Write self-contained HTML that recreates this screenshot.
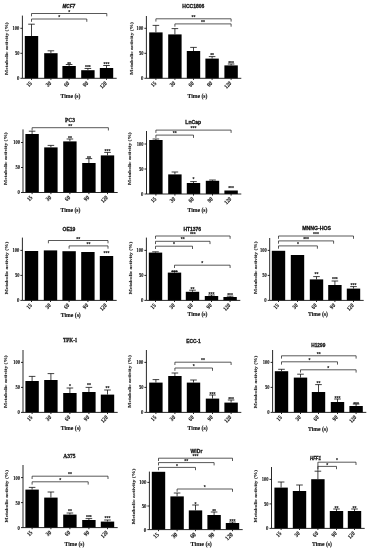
<!DOCTYPE html>
<html><head><meta charset="utf-8"><title>Metabolic activity</title><style>
html,body{margin:0;padding:0;background:#fff;width:368px;height:550px;overflow:hidden}
svg{display:block;filter:blur(0.3px)}
rect{fill:#000}
.a{stroke:#111;stroke-width:0.9;fill:none}
.b{stroke:#222;stroke-width:0.75;fill:none}
.e{stroke:#111;stroke-width:0.8;fill:none}
text{font-family:"Liberation Sans", sans-serif;font-weight:bold;fill:#111}
.yt{font-family:"Liberation Serif", serif;text-anchor:end;stroke:#111;stroke-width:0.1px}
.xt{font-family:"Liberation Serif", serif;text-anchor:end;stroke:#111;stroke-width:0.12px}
.st{font-family:"Liberation Sans", sans-serif;font-size:5px;text-anchor:middle;stroke:#111;stroke-width:0.1px}
.ti{stroke:#111;stroke-width:0.28px}
.tm{font-family:"Liberation Serif", serif;text-anchor:middle;stroke:#111;stroke-width:0.12px}
.yl{font-family:"Liberation Serif", serif;font-size:4.9px;fill:#2a2a2a;stroke:#2a2a2a;stroke-width:0.12px}
</style></head>
<body><svg width="368" height="550" viewBox="0 0 368 550">
<rect width="368" height="550" style="fill:#fff"/>
<rect x="24.8" y="36" width="13.4" height="42.3"/>
<rect x="44.2" y="53.2" width="13.4" height="25.1"/>
<rect x="62.4" y="66" width="13.4" height="12.3"/>
<rect x="81.2" y="70.2" width="13.4" height="8.1"/>
<rect x="99.8" y="68" width="13.4" height="10.3"/>
<path d="M31.5 36V24.2M28.2 24.2H34.8" class="e"/>
<path d="M50.9 53.2V50.8M47.6 50.8H54.2" class="e"/>
<path d="M69.1 66V64.5M65.8 64.5H72.4" class="e"/>
<path d="M87.9 70.2V68.5M84.6 68.5H91.2" class="e"/>
<path d="M106.5 68V65.5M103.2 65.5H109.8" class="e"/>
<path d="M22.4 15.6V78.3H116.7" class="a"/>
<path d="M20.4 78.3H22.4" class="a"/>
<text x="19.4" y="80.2" class="yt" style="font-size:5.4px" textLength="2.4" lengthAdjust="spacingAndGlyphs">0</text>
<path d="M20.4 53.3H22.4" class="a"/>
<text x="19.4" y="55.2" class="yt" style="font-size:5.4px" textLength="4.5" lengthAdjust="spacingAndGlyphs">50</text>
<path d="M20.4 28.3H22.4" class="a"/>
<text x="19.4" y="30.2" class="yt" style="font-size:5.4px" textLength="6.8" lengthAdjust="spacingAndGlyphs">100</text>
<path d="M31.5 78.3V79.9" class="a"/>
<text transform="translate(32.3 83.7) rotate(-45)" class="xt" style="font-size:6px" textLength="5.1" lengthAdjust="spacingAndGlyphs">15</text>
<path d="M50.9 78.3V79.9" class="a"/>
<text transform="translate(51.7 83.7) rotate(-45)" class="xt" style="font-size:6px" textLength="5.1" lengthAdjust="spacingAndGlyphs">30</text>
<path d="M69.1 78.3V79.9" class="a"/>
<text transform="translate(69.9 83.7) rotate(-45)" class="xt" style="font-size:6px" textLength="5.1" lengthAdjust="spacingAndGlyphs">60</text>
<path d="M87.9 78.3V79.9" class="a"/>
<text transform="translate(88.7 83.7) rotate(-45)" class="xt" style="font-size:6px" textLength="5.1" lengthAdjust="spacingAndGlyphs">90</text>
<path d="M106.5 78.3V79.9" class="a"/>
<text transform="translate(107.3 83.7) rotate(-45)" class="xt" style="font-size:6px" textLength="7.65" lengthAdjust="spacingAndGlyphs">120</text>
<text x="69.1" y="65.8" class="st">**</text>
<text x="87.9" y="69" class="st">***</text>
<text x="106.5" y="66" class="st">***</text>
<path d="M31.5 16.3V13.5H106.8V16.3" class="b"/>
<text x="69.15" y="13.6" class="st">*</text>
<path d="M31.5 21.8V19H86.8V21.8" class="b"/>
<text x="59.15" y="19.1" class="st">*</text>
<text x="62.5" y="7.8" class="ti" style="font-family:'Liberation Sans', sans-serif;font-size:5px;font-style:italic" textLength="12.6" lengthAdjust="spacingAndGlyphs">MCF7</text>
<text x="70.5" y="97.7" class="tm" style="font-size:5.7px">Time (s)</text>
<text transform="translate(7.8 48.6) rotate(-90)" class="yl" textLength="52.6" lengthAdjust="spacingAndGlyphs" x="-26.3">Metabolic activity (%)</text>
<rect x="149.2" y="32.4" width="13.4" height="45.9"/>
<rect x="168.2" y="34.4" width="13.4" height="43.9"/>
<rect x="186.8" y="51" width="13.4" height="27.3"/>
<rect x="205.4" y="58.6" width="13.4" height="19.7"/>
<rect x="224.4" y="65.4" width="13.4" height="12.9"/>
<path d="M155.9 32.4V25.4M152.6 25.4H159.2" class="e"/>
<path d="M174.9 34.4V28.6M171.6 28.6H178.2" class="e"/>
<path d="M193.5 51V47.4M190.2 47.4H196.8" class="e"/>
<path d="M212.1 58.6V56.6M208.8 56.6H215.4" class="e"/>
<path d="M231.1 65.4V64M227.8 64H234.4" class="e"/>
<path d="M146.4 16V78.3H241.3" class="a"/>
<path d="M144.4 78.3H146.4" class="a"/>
<text x="143.4" y="80.2" class="yt" style="font-size:5.4px" textLength="2.4" lengthAdjust="spacingAndGlyphs">0</text>
<path d="M144.4 53.3H146.4" class="a"/>
<text x="143.4" y="55.2" class="yt" style="font-size:5.4px" textLength="4.5" lengthAdjust="spacingAndGlyphs">50</text>
<path d="M144.4 28.3H146.4" class="a"/>
<text x="143.4" y="30.2" class="yt" style="font-size:5.4px" textLength="6.8" lengthAdjust="spacingAndGlyphs">100</text>
<path d="M155.9 78.3V79.9" class="a"/>
<text transform="translate(156.7 83.7) rotate(-45)" class="xt" style="font-size:6px" textLength="5.1" lengthAdjust="spacingAndGlyphs">15</text>
<path d="M174.9 78.3V79.9" class="a"/>
<text transform="translate(175.7 83.7) rotate(-45)" class="xt" style="font-size:6px" textLength="5.1" lengthAdjust="spacingAndGlyphs">30</text>
<path d="M193.5 78.3V79.9" class="a"/>
<text transform="translate(194.3 83.7) rotate(-45)" class="xt" style="font-size:6px" textLength="5.1" lengthAdjust="spacingAndGlyphs">60</text>
<path d="M212.1 78.3V79.9" class="a"/>
<text transform="translate(212.9 83.7) rotate(-45)" class="xt" style="font-size:6px" textLength="5.1" lengthAdjust="spacingAndGlyphs">90</text>
<path d="M231.1 78.3V79.9" class="a"/>
<text transform="translate(231.9 83.7) rotate(-45)" class="xt" style="font-size:6px" textLength="7.65" lengthAdjust="spacingAndGlyphs">120</text>
<text x="212.1" y="57.3" class="st">**</text>
<text x="231.1" y="64.8" class="st">***</text>
<path d="M155.9 21.6V18.8H231.1V21.6" class="b"/>
<text x="193.5" y="18.9" class="st">**</text>
<path d="M174.9 26.7V23.9H231.1V26.7" class="b"/>
<text x="203" y="24" class="st">**</text>
<text x="182.3" y="8.04" class="ti" style="font-family:'Liberation Sans', sans-serif;font-size:5.1px" textLength="22" lengthAdjust="spacingAndGlyphs">HCC1806</text>
<text x="197.5" y="97.5" class="tm" style="font-size:5.7px">Time (s)</text>
<text transform="translate(132.6 48.4) rotate(-90)" class="yl" textLength="52.6" lengthAdjust="spacingAndGlyphs" x="-26.3">Metabolic activity (%)</text>
<rect x="25.4" y="134" width="13.4" height="58.5"/>
<rect x="44.2" y="147.4" width="13.4" height="45.1"/>
<rect x="63.2" y="141.4" width="13.4" height="51.1"/>
<rect x="82.2" y="163" width="13.4" height="29.5"/>
<rect x="100.8" y="155.4" width="13.4" height="37.1"/>
<path d="M32.1 134V131.2M28.8 131.2H35.4" class="e"/>
<path d="M50.9 147.4V145.4M47.6 145.4H54.2" class="e"/>
<path d="M69.9 141.4V139M66.6 139H73.2" class="e"/>
<path d="M88.9 163V158.6M85.6 158.6H92.2" class="e"/>
<path d="M107.5 155.4V152.4M104.2 152.4H110.8" class="e"/>
<path d="M23 129.4V192.5H117.7" class="a"/>
<path d="M21 192.5H23" class="a"/>
<text x="20" y="194.4" class="yt" style="font-size:5.4px" textLength="2.4" lengthAdjust="spacingAndGlyphs">0</text>
<path d="M21 167.5H23" class="a"/>
<text x="20" y="169.4" class="yt" style="font-size:5.4px" textLength="4.5" lengthAdjust="spacingAndGlyphs">50</text>
<path d="M21 142.5H23" class="a"/>
<text x="20" y="144.4" class="yt" style="font-size:5.4px" textLength="6.8" lengthAdjust="spacingAndGlyphs">100</text>
<path d="M32.1 192.5V194.1" class="a"/>
<text transform="translate(32.9 197.9) rotate(-45)" class="xt" style="font-size:6px" textLength="5.1" lengthAdjust="spacingAndGlyphs">15</text>
<path d="M50.9 192.5V194.1" class="a"/>
<text transform="translate(51.7 197.9) rotate(-45)" class="xt" style="font-size:6px" textLength="5.1" lengthAdjust="spacingAndGlyphs">30</text>
<path d="M69.9 192.5V194.1" class="a"/>
<text transform="translate(70.7 197.9) rotate(-45)" class="xt" style="font-size:6px" textLength="5.1" lengthAdjust="spacingAndGlyphs">60</text>
<path d="M88.9 192.5V194.1" class="a"/>
<text transform="translate(89.7 197.9) rotate(-45)" class="xt" style="font-size:6px" textLength="5.1" lengthAdjust="spacingAndGlyphs">90</text>
<path d="M107.5 192.5V194.1" class="a"/>
<text transform="translate(108.3 197.9) rotate(-45)" class="xt" style="font-size:6px" textLength="7.65" lengthAdjust="spacingAndGlyphs">120</text>
<text x="69.9" y="139.8" class="st">**</text>
<text x="88.9" y="159.8" class="st">**</text>
<text x="107.5" y="153.3" class="st">***</text>
<path d="M32.1 130.5V127.7H108.4V130.5" class="b"/>
<text x="70.25" y="127.8" class="st">**</text>
<text x="65" y="122.18" class="ti" style="font-family:'Liberation Serif', serif;font-size:6px" textLength="10" lengthAdjust="spacingAndGlyphs">PC3</text>
<text x="70.5" y="211.9" class="tm" style="font-size:5.7px">Time (s)</text>
<text transform="translate(7.3 158.6) rotate(-90)" class="yl" textLength="52.6" lengthAdjust="spacingAndGlyphs" x="-26.3">Metabolic activity (%)</text>
<rect x="149.2" y="140" width="13.4" height="54"/>
<rect x="168.2" y="174.4" width="13.4" height="19.6"/>
<rect x="186.8" y="183" width="13.4" height="11"/>
<rect x="205.8" y="180.8" width="13.4" height="13.2"/>
<rect x="224.4" y="190.5" width="13.4" height="3.5"/>
<path d="M155.9 140V139M152.6 139H159.2" class="e"/>
<path d="M174.9 174.4V172M171.6 172H178.2" class="e"/>
<path d="M193.5 183V181.6M190.2 181.6H196.8" class="e"/>
<path d="M212.5 180.8V180M209.2 180H215.8" class="e"/>
<path d="M146.5 131V194H241.3" class="a"/>
<path d="M144.5 194H146.5" class="a"/>
<text x="143.5" y="195.9" class="yt" style="font-size:5.4px" textLength="2.4" lengthAdjust="spacingAndGlyphs">0</text>
<path d="M144.5 169H146.5" class="a"/>
<text x="143.5" y="170.9" class="yt" style="font-size:5.4px" textLength="4.5" lengthAdjust="spacingAndGlyphs">50</text>
<path d="M144.5 144H146.5" class="a"/>
<text x="143.5" y="145.9" class="yt" style="font-size:5.4px" textLength="6.8" lengthAdjust="spacingAndGlyphs">100</text>
<path d="M155.9 194V195.6" class="a"/>
<text transform="translate(156.7 199.4) rotate(-45)" class="xt" style="font-size:6px" textLength="5.1" lengthAdjust="spacingAndGlyphs">15</text>
<path d="M174.9 194V195.6" class="a"/>
<text transform="translate(175.7 199.4) rotate(-45)" class="xt" style="font-size:6px" textLength="5.1" lengthAdjust="spacingAndGlyphs">30</text>
<path d="M193.5 194V195.6" class="a"/>
<text transform="translate(194.3 199.4) rotate(-45)" class="xt" style="font-size:6px" textLength="5.1" lengthAdjust="spacingAndGlyphs">60</text>
<path d="M212.5 194V195.6" class="a"/>
<text transform="translate(213.3 199.4) rotate(-45)" class="xt" style="font-size:6px" textLength="5.1" lengthAdjust="spacingAndGlyphs">90</text>
<path d="M231.1 194V195.6" class="a"/>
<text transform="translate(231.9 199.4) rotate(-45)" class="xt" style="font-size:6px" textLength="7.65" lengthAdjust="spacingAndGlyphs">120</text>
<text x="193.5" y="181.4" class="st">*</text>
<text x="231.1" y="190" class="st">***</text>
<path d="M155.9 132.9V130.1H231.1V132.9" class="b"/>
<text x="193.5" y="130.2" class="st">***</text>
<path d="M155.9 137.9V135.1H193.5V137.9" class="b"/>
<text x="174.7" y="135.2" class="st">**</text>
<text x="185.3" y="124.17" class="ti" style="font-family:'Liberation Sans', sans-serif;font-size:5.2px" textLength="15.8" lengthAdjust="spacingAndGlyphs">LnCap</text>
<text x="197.5" y="211.9" class="tm" style="font-size:5.7px">Time (s)</text>
<text transform="translate(131.4 158.6) rotate(-90)" class="yl" textLength="52.6" lengthAdjust="spacingAndGlyphs" x="-26.3">Metabolic activity (%)</text>
<rect x="24.8" y="251" width="13.4" height="49.4"/>
<rect x="43.8" y="250.4" width="13.4" height="50"/>
<rect x="62.4" y="251.2" width="13.4" height="49.2"/>
<rect x="81.2" y="252" width="13.4" height="48.4"/>
<rect x="99.8" y="256" width="13.4" height="44.4"/>
<path d="M22.4 237.6V300.4H116.7" class="a"/>
<path d="M20.4 300.4H22.4" class="a"/>
<text x="19.4" y="302.3" class="yt" style="font-size:5.4px" textLength="2.4" lengthAdjust="spacingAndGlyphs">0</text>
<path d="M20.4 275.4H22.4" class="a"/>
<text x="19.4" y="277.3" class="yt" style="font-size:5.4px" textLength="4.5" lengthAdjust="spacingAndGlyphs">50</text>
<path d="M20.4 250.4H22.4" class="a"/>
<text x="19.4" y="252.3" class="yt" style="font-size:5.4px" textLength="6.8" lengthAdjust="spacingAndGlyphs">100</text>
<path d="M31.5 300.4V302" class="a"/>
<text transform="translate(32.3 305.8) rotate(-45)" class="xt" style="font-size:6px" textLength="5.1" lengthAdjust="spacingAndGlyphs">15</text>
<path d="M50.5 300.4V302" class="a"/>
<text transform="translate(51.3 305.8) rotate(-45)" class="xt" style="font-size:6px" textLength="5.1" lengthAdjust="spacingAndGlyphs">30</text>
<path d="M69.1 300.4V302" class="a"/>
<text transform="translate(69.9 305.8) rotate(-45)" class="xt" style="font-size:6px" textLength="5.1" lengthAdjust="spacingAndGlyphs">60</text>
<path d="M87.9 300.4V302" class="a"/>
<text transform="translate(88.7 305.8) rotate(-45)" class="xt" style="font-size:6px" textLength="5.1" lengthAdjust="spacingAndGlyphs">90</text>
<path d="M106.5 300.4V302" class="a"/>
<text transform="translate(107.3 305.8) rotate(-45)" class="xt" style="font-size:6px" textLength="7.65" lengthAdjust="spacingAndGlyphs">120</text>
<text x="106.5" y="255.3" class="st">***</text>
<path d="M48.4 243.3V240.5H108V243.3" class="b"/>
<text x="78.2" y="240.6" class="st">**</text>
<path d="M69.1 248.7V245.9H108V248.7" class="b"/>
<text x="88.55" y="246" class="st">**</text>
<text x="62.6" y="230.84" class="ti" style="font-family:'Liberation Sans', sans-serif;font-size:5.1px" textLength="12.8" lengthAdjust="spacingAndGlyphs">OE19</text>
<text x="70.8" y="316.9" class="tm" style="font-size:5.7px">Time (s)</text>
<text transform="translate(8.3 268) rotate(-90)" class="yl" textLength="52.6" lengthAdjust="spacingAndGlyphs" x="-26.3">Metabolic activity (%)</text>
<rect x="148.8" y="252.6" width="13.4" height="47.8"/>
<rect x="167.8" y="272.6" width="13.4" height="27.8"/>
<rect x="185.8" y="291.8" width="13.4" height="8.6"/>
<rect x="204.8" y="296" width="13.4" height="4.4"/>
<rect x="223.4" y="297" width="13.4" height="3.4"/>
<path d="M155.5 252.6V251.8M152.2 251.8H158.8" class="e"/>
<path d="M174.5 272.6V271.5M171.2 271.5H177.8" class="e"/>
<path d="M192.5 291.8V290.2M189.2 290.2H195.8" class="e"/>
<path d="M211.5 296V295M208.2 295H214.8" class="e"/>
<path d="M230.1 297V296.2M226.8 296.2H233.4" class="e"/>
<path d="M146.4 237.6V300.4H240.3" class="a"/>
<path d="M144.4 300.4H146.4" class="a"/>
<text x="143.4" y="302.3" class="yt" style="font-size:5.4px" textLength="2.4" lengthAdjust="spacingAndGlyphs">0</text>
<path d="M144.4 275.4H146.4" class="a"/>
<text x="143.4" y="277.3" class="yt" style="font-size:5.4px" textLength="4.5" lengthAdjust="spacingAndGlyphs">50</text>
<path d="M144.4 250.4H146.4" class="a"/>
<text x="143.4" y="252.3" class="yt" style="font-size:5.4px" textLength="6.8" lengthAdjust="spacingAndGlyphs">100</text>
<path d="M155.5 300.4V302" class="a"/>
<text transform="translate(156.3 305.8) rotate(-45)" class="xt" style="font-size:6px" textLength="5.1" lengthAdjust="spacingAndGlyphs">15</text>
<path d="M174.5 300.4V302" class="a"/>
<text transform="translate(175.3 305.8) rotate(-45)" class="xt" style="font-size:6px" textLength="5.1" lengthAdjust="spacingAndGlyphs">30</text>
<path d="M192.5 300.4V302" class="a"/>
<text transform="translate(193.3 305.8) rotate(-45)" class="xt" style="font-size:6px" textLength="5.1" lengthAdjust="spacingAndGlyphs">60</text>
<path d="M211.5 300.4V302" class="a"/>
<text transform="translate(212.3 305.8) rotate(-45)" class="xt" style="font-size:6px" textLength="5.1" lengthAdjust="spacingAndGlyphs">90</text>
<path d="M230.1 300.4V302" class="a"/>
<text transform="translate(230.9 305.8) rotate(-45)" class="xt" style="font-size:6px" textLength="7.65" lengthAdjust="spacingAndGlyphs">120</text>
<text x="174.5" y="273.8" class="st">***</text>
<text x="192.5" y="291" class="st">**</text>
<text x="211.5" y="295.8" class="st">***</text>
<text x="230.1" y="297.4" class="st">***</text>
<path d="M155.5 238.8V236H230.1V238.8" class="b"/>
<text x="192.8" y="236.1" class="st">***</text>
<path d="M155.5 244.1V241.3H210V244.1" class="b"/>
<text x="182.75" y="241.4" class="st">**</text>
<path d="M155.5 249V246.2H192.5V249" class="b"/>
<text x="174" y="246.3" class="st">*</text>
<path d="M174.5 268V265.2H230.1V268" class="b"/>
<text x="202.3" y="265.3" class="st">*</text>
<text x="183.5" y="230.74" class="ti" style="font-family:'Liberation Sans', sans-serif;font-size:5.1px" textLength="17.6" lengthAdjust="spacingAndGlyphs">HT1376</text>
<text x="197.5" y="316.3" class="tm" style="font-size:5.7px">Time (s)</text>
<text transform="translate(132.3 268) rotate(-90)" class="yl" textLength="52.6" lengthAdjust="spacingAndGlyphs" x="-26.3">Metabolic activity (%)</text>
<rect x="271.8" y="250.8" width="13.4" height="49.6"/>
<rect x="290.8" y="255" width="13.4" height="45.4"/>
<rect x="309.8" y="279.4" width="13.4" height="21"/>
<rect x="328.2" y="285" width="13.4" height="15.4"/>
<rect x="346.8" y="288.6" width="13.4" height="11.8"/>
<path d="M316.5 279.4V276.6M313.2 276.6H319.8" class="e"/>
<path d="M334.9 285V281M331.6 281H338.2" class="e"/>
<path d="M353.5 288.6V286.6M350.2 286.6H356.8" class="e"/>
<path d="M269.7 238V300.4H363.7" class="a"/>
<path d="M267.7 300.4H269.7" class="a"/>
<text x="266.7" y="302.3" class="yt" style="font-size:5.4px" textLength="2.4" lengthAdjust="spacingAndGlyphs">0</text>
<path d="M267.7 275.4H269.7" class="a"/>
<text x="266.7" y="277.3" class="yt" style="font-size:5.4px" textLength="4.5" lengthAdjust="spacingAndGlyphs">50</text>
<path d="M267.7 250.4H269.7" class="a"/>
<text x="266.7" y="252.3" class="yt" style="font-size:5.4px" textLength="6.8" lengthAdjust="spacingAndGlyphs">100</text>
<path d="M278.5 300.4V302" class="a"/>
<text transform="translate(279.3 305.8) rotate(-45)" class="xt" style="font-size:6px" textLength="5.1" lengthAdjust="spacingAndGlyphs">15</text>
<path d="M297.5 300.4V302" class="a"/>
<text transform="translate(298.3 305.8) rotate(-45)" class="xt" style="font-size:6px" textLength="5.1" lengthAdjust="spacingAndGlyphs">30</text>
<path d="M316.5 300.4V302" class="a"/>
<text transform="translate(317.3 305.8) rotate(-45)" class="xt" style="font-size:6px" textLength="5.1" lengthAdjust="spacingAndGlyphs">60</text>
<path d="M334.9 300.4V302" class="a"/>
<text transform="translate(335.7 305.8) rotate(-45)" class="xt" style="font-size:6px" textLength="5.1" lengthAdjust="spacingAndGlyphs">90</text>
<path d="M353.5 300.4V302" class="a"/>
<text transform="translate(354.3 305.8) rotate(-45)" class="xt" style="font-size:6px" textLength="7.65" lengthAdjust="spacingAndGlyphs">120</text>
<text x="316.5" y="276.4" class="st">**</text>
<text x="334.9" y="281.4" class="st">***</text>
<text x="353.5" y="286.8" class="st">***</text>
<path d="M278.5 238.8V236H353.5V238.8" class="b"/>
<text x="316" y="236.1" class="st">***</text>
<path d="M278.5 243.7V240.9H333.6V243.7" class="b"/>
<text x="306.05" y="241" class="st">***</text>
<path d="M278.5 248.7V245.9H317.4V248.7" class="b"/>
<text x="297.95" y="246" class="st">*</text>
<text x="302.2" y="230.34" class="ti" style="font-family:'Liberation Sans', sans-serif;font-size:5.1px" textLength="28.8" lengthAdjust="spacingAndGlyphs">MNNG-HOS</text>
<text x="318" y="316.3" class="tm" style="font-size:5.7px">Time (s)</text>
<text transform="translate(257.3 267.7) rotate(-90)" class="yl" textLength="52.6" lengthAdjust="spacingAndGlyphs" x="-26.3">Metabolic activity (%)</text>
<rect x="25.4" y="381" width="13.4" height="31.4"/>
<rect x="44.2" y="380" width="13.4" height="32.4"/>
<rect x="63.2" y="393" width="13.4" height="19.4"/>
<rect x="82.2" y="392" width="13.4" height="20.4"/>
<rect x="100.8" y="394.6" width="13.4" height="17.8"/>
<path d="M32.1 381V376.4M28.8 376.4H35.4" class="e"/>
<path d="M50.9 380V373.6M47.6 373.6H54.2" class="e"/>
<path d="M69.9 393V388M66.6 388H73.2" class="e"/>
<path d="M88.9 392V387.4M85.6 387.4H92.2" class="e"/>
<path d="M107.5 394.6V390M104.2 390H110.8" class="e"/>
<path d="M23 350V412.4H117.7" class="a"/>
<path d="M21 412.4H23" class="a"/>
<text x="20" y="414.3" class="yt" style="font-size:5.4px" textLength="2.4" lengthAdjust="spacingAndGlyphs">0</text>
<path d="M21 387.4H23" class="a"/>
<text x="20" y="389.3" class="yt" style="font-size:5.4px" textLength="4.5" lengthAdjust="spacingAndGlyphs">50</text>
<path d="M21 362.4H23" class="a"/>
<text x="20" y="364.3" class="yt" style="font-size:5.4px" textLength="6.8" lengthAdjust="spacingAndGlyphs">100</text>
<path d="M32.1 412.4V414" class="a"/>
<text transform="translate(32.9 417.8) rotate(-45)" class="xt" style="font-size:6px" textLength="5.1" lengthAdjust="spacingAndGlyphs">15</text>
<path d="M50.9 412.4V414" class="a"/>
<text transform="translate(51.7 417.8) rotate(-45)" class="xt" style="font-size:6px" textLength="5.1" lengthAdjust="spacingAndGlyphs">30</text>
<path d="M69.9 412.4V414" class="a"/>
<text transform="translate(70.7 417.8) rotate(-45)" class="xt" style="font-size:6px" textLength="5.1" lengthAdjust="spacingAndGlyphs">60</text>
<path d="M88.9 412.4V414" class="a"/>
<text transform="translate(89.7 417.8) rotate(-45)" class="xt" style="font-size:6px" textLength="5.1" lengthAdjust="spacingAndGlyphs">90</text>
<path d="M107.5 412.4V414" class="a"/>
<text transform="translate(108.3 417.8) rotate(-45)" class="xt" style="font-size:6px" textLength="7.65" lengthAdjust="spacingAndGlyphs">120</text>
<text x="69.9" y="387.8" class="st">*</text>
<text x="88.9" y="386.8" class="st">**</text>
<text x="107.5" y="389.8" class="st">**</text>
<text x="62.9" y="342.38" class="ti" style="font-family:'Liberation Serif', serif;font-size:6px" textLength="14.4" lengthAdjust="spacingAndGlyphs">TFK-1</text>
<text x="70.8" y="429.9" class="tm" style="font-size:5.7px">Time (s)</text>
<text transform="translate(7.4 381.6) rotate(-90)" class="yl" textLength="52.6" lengthAdjust="spacingAndGlyphs" x="-26.3">Metabolic activity (%)</text>
<rect x="149.2" y="382.6" width="13.4" height="29.8"/>
<rect x="168.2" y="376" width="13.4" height="36.4"/>
<rect x="186.8" y="382.6" width="13.4" height="29.8"/>
<rect x="205.8" y="398.6" width="13.4" height="13.8"/>
<rect x="224.4" y="402.6" width="13.4" height="9.8"/>
<path d="M155.9 382.6V379.6M152.6 379.6H159.2" class="e"/>
<path d="M174.9 376V373M171.6 373H178.2" class="e"/>
<path d="M193.5 382.6V380M190.2 380H196.8" class="e"/>
<path d="M212.5 398.6V395M209.2 395H215.8" class="e"/>
<path d="M231.1 402.6V400M227.8 400H234.4" class="e"/>
<path d="M146.4 350V412.4H241.3" class="a"/>
<path d="M144.4 412.4H146.4" class="a"/>
<text x="143.4" y="414.3" class="yt" style="font-size:5.4px" textLength="2.4" lengthAdjust="spacingAndGlyphs">0</text>
<path d="M144.4 387.4H146.4" class="a"/>
<text x="143.4" y="389.3" class="yt" style="font-size:5.4px" textLength="4.5" lengthAdjust="spacingAndGlyphs">50</text>
<path d="M144.4 362.4H146.4" class="a"/>
<text x="143.4" y="364.3" class="yt" style="font-size:5.4px" textLength="6.8" lengthAdjust="spacingAndGlyphs">100</text>
<path d="M155.9 412.4V414" class="a"/>
<text transform="translate(156.7 417.8) rotate(-45)" class="xt" style="font-size:6px" textLength="5.1" lengthAdjust="spacingAndGlyphs">15</text>
<path d="M174.9 412.4V414" class="a"/>
<text transform="translate(175.7 417.8) rotate(-45)" class="xt" style="font-size:6px" textLength="5.1" lengthAdjust="spacingAndGlyphs">30</text>
<path d="M193.5 412.4V414" class="a"/>
<text transform="translate(194.3 417.8) rotate(-45)" class="xt" style="font-size:6px" textLength="5.1" lengthAdjust="spacingAndGlyphs">60</text>
<path d="M212.5 412.4V414" class="a"/>
<text transform="translate(213.3 417.8) rotate(-45)" class="xt" style="font-size:6px" textLength="5.1" lengthAdjust="spacingAndGlyphs">90</text>
<path d="M231.1 412.4V414" class="a"/>
<text transform="translate(231.9 417.8) rotate(-45)" class="xt" style="font-size:6px" textLength="7.65" lengthAdjust="spacingAndGlyphs">120</text>
<text x="212.5" y="395.8" class="st">***</text>
<text x="231.1" y="400.8" class="st">***</text>
<path d="M174.9 365V362.2H231.1V365" class="b"/>
<text x="203" y="362.3" class="st">**</text>
<path d="M174.9 370.8V368H212.5V370.8" class="b"/>
<text x="193.7" y="368.1" class="st">*</text>
<text x="186.3" y="342.84" class="ti" style="font-family:'Liberation Sans', sans-serif;font-size:5.1px" textLength="14.4" lengthAdjust="spacingAndGlyphs">ECC-1</text>
<text x="197.6" y="429.9" class="tm" style="font-size:5.7px">Time (s)</text>
<text transform="translate(131.4 381.4) rotate(-90)" class="yl" textLength="52.6" lengthAdjust="spacingAndGlyphs" x="-26.3">Metabolic activity (%)</text>
<rect x="274.8" y="371.2" width="13.4" height="41.2"/>
<rect x="293.8" y="377.6" width="13.4" height="34.8"/>
<rect x="311.8" y="392" width="13.4" height="20.4"/>
<rect x="330.8" y="402" width="13.4" height="10.4"/>
<rect x="349.4" y="406" width="13.4" height="6.4"/>
<path d="M281.5 371.2V369.3M278.2 369.3H284.8" class="e"/>
<path d="M300.5 377.6V374.2M297.2 374.2H303.8" class="e"/>
<path d="M318.5 392V384.6M315.2 384.6H321.8" class="e"/>
<path d="M337.5 402V399M334.2 399H340.8" class="e"/>
<path d="M356.1 406V404M352.8 404H359.4" class="e"/>
<path d="M272.6 350V412.4H366.3" class="a"/>
<path d="M270.6 412.4H272.6" class="a"/>
<text x="269.6" y="414.3" class="yt" style="font-size:5.4px" textLength="2.4" lengthAdjust="spacingAndGlyphs">0</text>
<path d="M270.6 387.4H272.6" class="a"/>
<text x="269.6" y="389.3" class="yt" style="font-size:5.4px" textLength="4.5" lengthAdjust="spacingAndGlyphs">50</text>
<path d="M270.6 362.4H272.6" class="a"/>
<text x="269.6" y="364.3" class="yt" style="font-size:5.4px" textLength="6.8" lengthAdjust="spacingAndGlyphs">100</text>
<path d="M281.5 412.4V414" class="a"/>
<text transform="translate(282.3 417.8) rotate(-45)" class="xt" style="font-size:6px" textLength="5.1" lengthAdjust="spacingAndGlyphs">15</text>
<path d="M300.5 412.4V414" class="a"/>
<text transform="translate(301.3 417.8) rotate(-45)" class="xt" style="font-size:6px" textLength="5.1" lengthAdjust="spacingAndGlyphs">30</text>
<path d="M318.5 412.4V414" class="a"/>
<text transform="translate(319.3 417.8) rotate(-45)" class="xt" style="font-size:6px" textLength="5.1" lengthAdjust="spacingAndGlyphs">60</text>
<path d="M337.5 412.4V414" class="a"/>
<text transform="translate(338.3 417.8) rotate(-45)" class="xt" style="font-size:6px" textLength="5.1" lengthAdjust="spacingAndGlyphs">90</text>
<path d="M356.1 412.4V414" class="a"/>
<text transform="translate(356.9 417.8) rotate(-45)" class="xt" style="font-size:6px" textLength="7.65" lengthAdjust="spacingAndGlyphs">120</text>
<text x="318.5" y="385.2" class="st">**</text>
<text x="337.5" y="399.8" class="st">***</text>
<text x="356.1" y="406" class="st">***</text>
<path d="M281.5 358.6V355.8H356.1V358.6" class="b"/>
<text x="318.8" y="355.9" class="st">**</text>
<path d="M281.5 364.6V361.8H337.5V364.6" class="b"/>
<text x="309.5" y="361.9" class="st">*</text>
<path d="M300.5 372.6V369.8H356.1V372.6" class="b"/>
<text x="328.3" y="369.9" class="st">*</text>
<text x="311.3" y="346.84" class="ti" style="font-family:'Liberation Sans', sans-serif;font-size:5.1px" textLength="14" lengthAdjust="spacingAndGlyphs">H1299</text>
<text x="318" y="430.5" class="tm" style="font-size:5.7px">Time (s)</text>
<text transform="translate(257.3 382) rotate(-90)" class="yl" textLength="52.6" lengthAdjust="spacingAndGlyphs" x="-26.3">Metabolic activity (%)</text>
<rect x="25.4" y="489.6" width="13.4" height="38"/>
<rect x="44.2" y="497.6" width="13.4" height="30"/>
<rect x="63.2" y="514.6" width="13.4" height="13"/>
<rect x="82.2" y="520" width="13.4" height="7.6"/>
<rect x="100.8" y="521.6" width="13.4" height="6"/>
<path d="M32.1 489.6V487.4M28.8 487.4H35.4" class="e"/>
<path d="M50.9 497.6V492M47.6 492H54.2" class="e"/>
<path d="M69.9 514.6V513M66.6 513H73.2" class="e"/>
<path d="M88.9 520V518.6M85.6 518.6H92.2" class="e"/>
<path d="M107.5 521.6V520M104.2 520H110.8" class="e"/>
<path d="M23 465V527.6H117.7" class="a"/>
<path d="M21 527.6H23" class="a"/>
<text x="20" y="529.5" class="yt" style="font-size:5.4px" textLength="2.4" lengthAdjust="spacingAndGlyphs">0</text>
<path d="M21 502.6H23" class="a"/>
<text x="20" y="504.5" class="yt" style="font-size:5.4px" textLength="4.5" lengthAdjust="spacingAndGlyphs">50</text>
<path d="M21 477.6H23" class="a"/>
<text x="20" y="479.5" class="yt" style="font-size:5.4px" textLength="6.8" lengthAdjust="spacingAndGlyphs">100</text>
<path d="M32.1 527.6V529.2" class="a"/>
<text transform="translate(32.9 533) rotate(-45)" class="xt" style="font-size:6px" textLength="5.1" lengthAdjust="spacingAndGlyphs">15</text>
<path d="M50.9 527.6V529.2" class="a"/>
<text transform="translate(51.7 533) rotate(-45)" class="xt" style="font-size:6px" textLength="5.1" lengthAdjust="spacingAndGlyphs">30</text>
<path d="M69.9 527.6V529.2" class="a"/>
<text transform="translate(70.7 533) rotate(-45)" class="xt" style="font-size:6px" textLength="5.1" lengthAdjust="spacingAndGlyphs">60</text>
<path d="M88.9 527.6V529.2" class="a"/>
<text transform="translate(89.7 533) rotate(-45)" class="xt" style="font-size:6px" textLength="5.1" lengthAdjust="spacingAndGlyphs">90</text>
<path d="M107.5 527.6V529.2" class="a"/>
<text transform="translate(108.3 533) rotate(-45)" class="xt" style="font-size:6px" textLength="7.65" lengthAdjust="spacingAndGlyphs">120</text>
<text x="69.9" y="513.3" class="st">**</text>
<text x="88.9" y="519.3" class="st">***</text>
<text x="107.5" y="520.3" class="st">***</text>
<path d="M32.1 479V476.2H108V479" class="b"/>
<text x="70.05" y="476.3" class="st">**</text>
<path d="M32.1 484.6V481.8H88.2V484.6" class="b"/>
<text x="60.15" y="481.9" class="st">*</text>
<text x="63.2" y="458.18" class="ti" style="font-family:'Liberation Serif', serif;font-size:6px" textLength="12.2" lengthAdjust="spacingAndGlyphs">A375</text>
<text x="74.5" y="545.5" class="tm" style="font-size:5.7px">Time (s)</text>
<text transform="translate(7.5 496.2) rotate(-90)" class="yl" textLength="52.6" lengthAdjust="spacingAndGlyphs" x="-26.3">Metabolic activity (%)</text>
<rect x="151.8" y="471.8" width="13.4" height="57.8"/>
<rect x="170.4" y="496.4" width="13.4" height="33.2"/>
<rect x="188.8" y="510.4" width="13.4" height="19.2"/>
<rect x="207.4" y="515" width="13.4" height="14.6"/>
<rect x="225.8" y="523" width="13.4" height="6.6"/>
<path d="M177.1 496.4V493M173.8 493H180.4" class="e"/>
<path d="M195.5 510.4V505M192.2 505H198.8" class="e"/>
<path d="M214.1 515V512M210.8 512H217.4" class="e"/>
<path d="M232.5 523V522M229.2 522H235.8" class="e"/>
<path d="M149.4 471.6V529.6H242.7" class="a"/>
<path d="M147.4 529.6H149.4" class="a"/>
<text x="146.4" y="531.61" class="yt" style="font-size:5.72px" textLength="2.54" lengthAdjust="spacingAndGlyphs">0</text>
<path d="M147.4 506H149.4" class="a"/>
<text x="146.4" y="508.01" class="yt" style="font-size:5.72px" textLength="4.77" lengthAdjust="spacingAndGlyphs">50</text>
<path d="M147.4 482.4H149.4" class="a"/>
<text x="146.4" y="484.41" class="yt" style="font-size:5.72px" textLength="7.21" lengthAdjust="spacingAndGlyphs">100</text>
<path d="M158.5 529.6V531.2" class="a"/>
<text transform="translate(159.3 535) rotate(-45)" class="xt" style="font-size:6.36px" textLength="5.41" lengthAdjust="spacingAndGlyphs">15</text>
<path d="M177.1 529.6V531.2" class="a"/>
<text transform="translate(177.9 535) rotate(-45)" class="xt" style="font-size:6.36px" textLength="5.41" lengthAdjust="spacingAndGlyphs">30</text>
<path d="M195.5 529.6V531.2" class="a"/>
<text transform="translate(196.3 535) rotate(-45)" class="xt" style="font-size:6.36px" textLength="5.41" lengthAdjust="spacingAndGlyphs">60</text>
<path d="M214.1 529.6V531.2" class="a"/>
<text transform="translate(214.9 535) rotate(-45)" class="xt" style="font-size:6.36px" textLength="5.41" lengthAdjust="spacingAndGlyphs">90</text>
<path d="M232.5 529.6V531.2" class="a"/>
<text transform="translate(233.3 535) rotate(-45)" class="xt" style="font-size:6.36px" textLength="8.11" lengthAdjust="spacingAndGlyphs">120</text>
<text x="195.5" y="506.3" class="st">*</text>
<text x="214.1" y="513.3" class="st">**</text>
<text x="232.5" y="523.3" class="st">***</text>
<path d="M158.5 461V458.2H232.5V461" class="b"/>
<text x="195.5" y="458.3" class="st">***</text>
<path d="M158.5 465.4V462.6H214.1V465.4" class="b"/>
<text x="186.3" y="462.7" class="st">**</text>
<path d="M158.5 470.2V467.4H195.5V470.2" class="b"/>
<text x="177" y="467.5" class="st">*</text>
<path d="M177.1 491.8V489H232.5V491.8" class="b"/>
<text x="204.8" y="489.1" class="st">*</text>
<text x="190.6" y="452.51" class="ti" style="font-family:'Liberation Sans', sans-serif;font-size:5.3px" textLength="11.8" lengthAdjust="spacingAndGlyphs">WiDr</text>
<text x="201.2" y="545.7" class="tm" style="font-size:6.04px">Time (s)</text>
<text transform="translate(135.4 496.4) rotate(-90)" class="yl" textLength="55.76" lengthAdjust="spacingAndGlyphs" x="-27.88">Metabolic activity (%)</text>
<rect x="274.4" y="487.6" width="13.4" height="40.8"/>
<rect x="292.8" y="491" width="13.4" height="37.4"/>
<rect x="311.2" y="479.2" width="13.4" height="49.2"/>
<rect x="329.8" y="511" width="13.4" height="17.4"/>
<rect x="347.8" y="511" width="13.4" height="17.4"/>
<path d="M281.1 487.6V482M277.8 482H284.4" class="e"/>
<path d="M299.5 491V485M296.2 485H302.8" class="e"/>
<path d="M317.9 479.2V471.2M314.6 471.2H321.2" class="e"/>
<path d="M336.5 511V509M333.2 509H339.8" class="e"/>
<path d="M354.5 511V509M351.2 509H357.8" class="e"/>
<path d="M271.5 467V528.4H364.7" class="a"/>
<path d="M269.5 528.4H271.5" class="a"/>
<text x="268.5" y="530.3" class="yt" style="font-size:5.4px" textLength="2.4" lengthAdjust="spacingAndGlyphs">0</text>
<path d="M269.5 503.9H271.5" class="a"/>
<text x="268.5" y="505.8" class="yt" style="font-size:5.4px" textLength="4.5" lengthAdjust="spacingAndGlyphs">50</text>
<path d="M269.5 479.4H271.5" class="a"/>
<text x="268.5" y="481.3" class="yt" style="font-size:5.4px" textLength="6.8" lengthAdjust="spacingAndGlyphs">100</text>
<path d="M281.1 528.4V530" class="a"/>
<text transform="translate(281.9 533.8) rotate(-45)" class="xt" style="font-size:6px" textLength="5.1" lengthAdjust="spacingAndGlyphs">15</text>
<path d="M299.5 528.4V530" class="a"/>
<text transform="translate(300.3 533.8) rotate(-45)" class="xt" style="font-size:6px" textLength="5.1" lengthAdjust="spacingAndGlyphs">30</text>
<path d="M317.9 528.4V530" class="a"/>
<text transform="translate(318.7 533.8) rotate(-45)" class="xt" style="font-size:6px" textLength="5.1" lengthAdjust="spacingAndGlyphs">60</text>
<path d="M336.5 528.4V530" class="a"/>
<text transform="translate(337.3 533.8) rotate(-45)" class="xt" style="font-size:6px" textLength="5.1" lengthAdjust="spacingAndGlyphs">90</text>
<path d="M354.5 528.4V530" class="a"/>
<text transform="translate(355.3 533.8) rotate(-45)" class="xt" style="font-size:6px" textLength="7.65" lengthAdjust="spacingAndGlyphs">120</text>
<text x="336.5" y="510.3" class="st">**</text>
<text x="354.5" y="510.3" class="st">**</text>
<path d="M317.9 471V462.2H356V465" class="b"/>
<text x="336.95" y="462.3" class="st">*</text>
<path d="M317.9 469.2V466.4H336.5V469.2" class="b"/>
<text x="327.2" y="466.5" class="st">*</text>
<text x="310" y="460" class="ti" style="font-family:'Liberation Sans', sans-serif;font-size:5px;font-style:italic" textLength="11" lengthAdjust="spacingAndGlyphs">HFF1</text>
<text x="322" y="545.7" class="tm" style="font-size:5.7px">Time (s)</text>
<text transform="translate(256.6 496.2) rotate(-90)" class="yl" textLength="52.6" lengthAdjust="spacingAndGlyphs" x="-26.3">Metabolic activity (%)</text>
</svg></body></html>
